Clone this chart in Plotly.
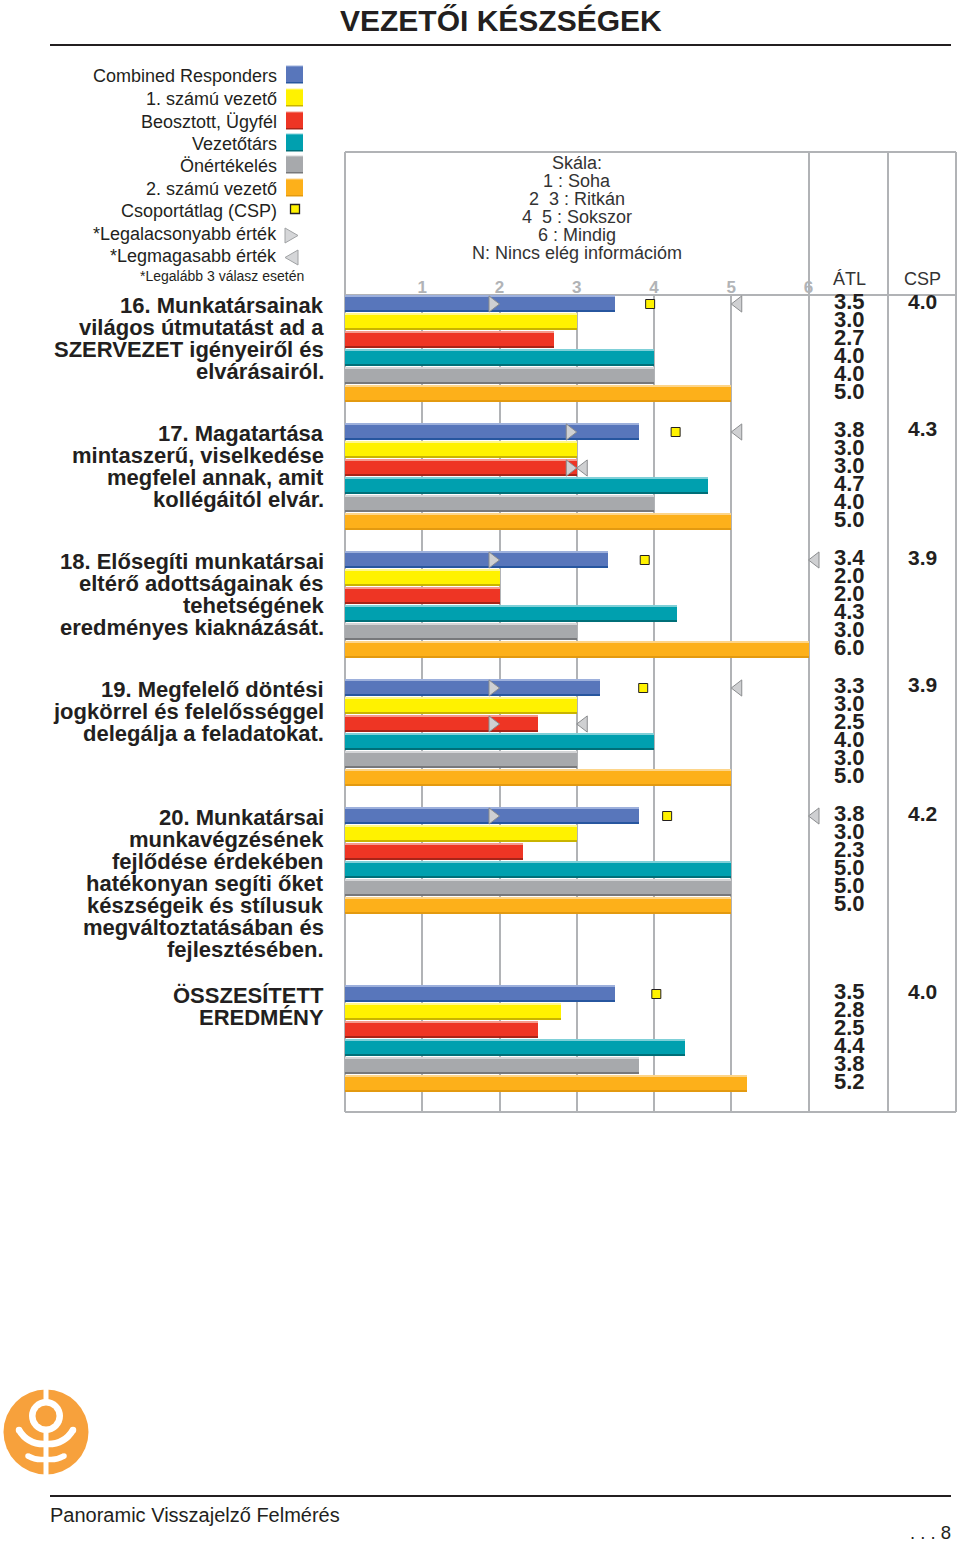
import plotly.graph_objects as go

W, H = 960, 1543
FONT = "Liberation Sans"

series_names = ["Combined Responders", "1. számú vezető", "Beosztott, Ügyfél", "Vezetőtárs", "Önértékelés", "2. számú vezető"]
main_colors = ["#5876bb", "#fff200", "#ee3524", "#00a0af", "#a7a9ac", "#fdb01a"]
dark_colors = ["#27569f", "#c9b400", "#a82418", "#006f78", "#77787b", "#e39a10"]
light_colors = ["#9db0dc", "#fff88a", "#f59a8c", "#7fd0d8", "#d4d5d7", "#fdd58a"]

combined = [3.5, 3.8, 3.4, 3.3, 3.8, 3.5]
leader1 = [3.0, 3.0, 2.0, 3.0, 3.0, 2.8]
subordinate = [2.7, 3.0, 2.0, 2.5, 2.3, 2.5]
peer = [4.0, 4.7, 4.3, 4.0, 5.0, 4.4]
self_rating = [4.0, 4.0, 3.0, 3.0, 5.0, 3.8]
leader2 = [5.0, 5.0, 6.0, 5.0, 5.0, 5.2]
all_series = [combined, leader1, subordinate, peer, self_rating, leader2]

csp = [4.0, 4.3, 3.9, 3.9, 4.2, 4.0]
csp_marks = [3.95, 4.28, 3.88, 3.86, 4.17, 4.03]
combined_low = [2, 3, 2, 2, 2, None]
combined_high = [5, 5, 6, 5, 6, None]
subordinate_low = [None, 3, None, 2, None, None]
subordinate_high = [None, 3, None, 3, None, None]

questions = [
    ["16. Munkatársainak", "világos útmutatást ad a", "SZERVEZET igényeiről és", "elvárásairól."],
    ["17. Magatartása", "mintaszerű, viselkedése", "megfelel annak, amit", "kollégáitól elvár."],
    ["18. Elősegíti munkatársai", "eltérő adottságainak és", "tehetségének", "eredményes kiaknázását."],
    ["19. Megfelelő döntési", "jogkörrel és felelősséggel", "delegálja a feladatokat."],
    ["20. Munkatársai", "munkavégzésének", "fejlődése érdekében", "hatékonyan segíti őket", "készségeik és stílusuk", "megváltoztatásában és", "fejlesztésében."],
    ["ÖSSZESÍTETT", "EREDMÉNY"],
]
scale_lines = ["Skála:", "1 : Soha", "2  3 : Ritkán", "4  5 : Sokszor", "6 : Mindig", "N: Nincs elég információm"]
legend_extra = ["Csoportátlag (CSP)", "*Legalacsonyabb érték", "*Legmagasabb érték"]
ticks = [1, 2, 3, 4, 5, 6]

# layout constants (pixels on the page)
PL, PR, PT, PB = 345, 957, 295, 1112
UNIT = 77.25
group_tops = [304, 432, 560, 688, 816, 994]
ROW = 18
TIP = 7 / UNIT


def row_y(g, r):
    return group_tops[g] + r * ROW


def px(x):
    return x / W


def py(y):
    return 1 - y / H


fig = go.Figure()

for s, vals in enumerate(all_series):
    ys = [row_y(g, s) for g in range(6)]
    fig.add_bar(y=ys, x=vals, orientation="h", width=16.6, marker=dict(color=main_colors[s], line_width=0), hoverinfo="skip")
    fig.add_bar(y=[y - 7.8 for y in ys], x=vals, orientation="h", width=1.2, marker=dict(color=light_colors[s], line_width=0), hoverinfo="skip")
    fig.add_bar(y=[y + 7.6 for y in ys], x=vals, orientation="h", width=1.4, marker=dict(color=dark_colors[s], line_width=0), hoverinfo="skip")


def add_points(vals, row, symbol, dx, size, color, line):
    xs, ys = [], []
    for g, v in enumerate(vals):
        if v is not None:
            xs.append(v + dx)
            ys.append(row_y(g, row))
    fig.add_scatter(x=xs, y=ys, mode="markers", hoverinfo="skip",
                    marker=dict(symbol=symbol, size=size, color=color, line=dict(color=line, width=1)))


TRI, TRL = "#cfd0d2", "#8a8c8e"
add_points(combined_low, 0, "triangle-right", -TIP, 14, TRI, TRL)
add_points(combined_high, 0, "triangle-left", TIP, 14, TRI, TRL)
add_points(subordinate_low, 2, "triangle-right", -TIP, 14, TRI, TRL)
add_points(subordinate_high, 2, "triangle-left", TIP, 14, TRI, TRL)
add_points(csp_marks, 0, "square", 0, 9, "#fff200", "#231f20")

ann = []


def text(x, y, t, size, anchor="right", color="#231f20", bold=False):
    if bold:
        t = "<b>" + t + "</b>"
    ann.append(dict(xref="paper", yref="paper", x=px(x), y=py(y), text=t, showarrow=False, borderpad=0, borderwidth=0,
                    xanchor=anchor, yanchor="middle", align=anchor,
                    font=dict(family=FONT, size=size, color=color)))


text(501, 20, "VEZETŐI KÉSZSÉGEK", 30, "center", bold=True)
text(50, 1515, "Panoramic Visszajelző Felmérés", 20, "left")
text(951, 1532.5, ". . . 8", 18.5, "right")

legend_y = [76, 99, 122, 144, 166, 189]
for name, y in zip(series_names, legend_y):
    text(276.5, y, name, 18)
for name, y in zip(legend_extra, [211, 234, 256]):
    text(276.5, y, name, 18)
text(304, 276, "*Legalább 3 válasz esetén", 14)

q_tops = [305.5, 433.5, 561.5, 689.5, 817.5, 995.5]
for lines, top in zip(questions, q_tops):
    for i, line in enumerate(lines):
        text(324, top + i * 22, line, 22, bold=True)

for i, line in enumerate(scale_lines):
    text(577, 163 + i * 18, line, 18, "center", color="#333333")

text(849, 279, "ÁTL", 18, "center", color="#333333")
text(922, 279, "CSP", 18, "center", color="#333333")

for s, vals in enumerate(all_series):
    for g, v in enumerate(vals):
        text(849, row_y(g, s) - 2.5, f"{v:.1f}", 22, "center", bold=True)
for g, v in enumerate(csp):
    text(922, row_y(g, 0) - 3, f"{v:.1f}", 21, "center", bold=True)

GR = "#b1b3b6"
shapes = []


def line(x0, y0, x1, y1, color=GR, width=2):
    shapes.append(dict(type="line", xref="paper", yref="paper", x0=px(x0), y0=py(y0), x1=px(x1), y1=py(y1),
                       line=dict(color=color, width=width), layer="below"))


def rect(x0, y0, x1, y1, fill, color=None, width=0, layer="above"):
    shapes.append(dict(type="rect", xref="paper", yref="paper", x0=px(x0), y0=py(y0), x1=px(x1), y1=py(y1),
                       fillcolor=fill, line=dict(color=color or fill, width=width), layer=layer))


def circle(cx, cy, r, fill):
    shapes.append(dict(type="circle", xref="paper", yref="paper", x0=px(cx - r), y0=py(cy - r), x1=px(cx + r), y1=py(cy + r),
                       fillcolor=fill, line=dict(width=0), layer="above"))


def poly(points, fill, color, width=1):
    d = "M " + " L ".join(f"{px(a):.5f},{py(b):.5f}" for a, b in points) + " Z"
    shapes.append(dict(type="path", xref="paper", yref="paper", path=d, fillcolor=fill, line=dict(color=color, width=width), layer="above"))


def curve(p0, c, p1, width=6):
    d = f"M {px(p0[0]):.5f},{py(p0[1]):.5f} Q {px(c[0]):.5f},{py(c[1]):.5f} {px(p1[0]):.5f},{py(p1[1]):.5f}"
    shapes.append(dict(type="path", xref="paper", yref="paper", path=d, line=dict(color="white", width=width), layer="above"))
    circle(p0[0], p0[1], width / 2, "white")


# header and footer rules
line(50, 45, 951, 45, "#231f20", 2)
line(50, 1496, 951, 1496, "#231f20", 2)
# frame
line(345, 152, 956, 152)
line(345, 152, 345, 1112)
line(956, 152, 956, 1112)
line(345, 1112, 956, 1112)
line(345, 295, 956, 295)
line(809, 152, 809, 1112)
line(888, 152, 888, 1112)

# legend swatches
for i, y in enumerate(legend_y):
    rect(286, y - 10, 303, y + 7, main_colors[i])
    rect(286, y + 6, 303, y + 7.5, dark_colors[i])
    rect(286, y - 10.5, 303, y - 9.5, light_colors[i])
rect(290.5, 204.5, 299.5, 213.5, "#fff200", "#231f20", 1.3)
poly([(285, 228), (285, 243), (298, 235.5)], "#d5d6d8", "#a0a2a4")
poly([(298, 250), (298, 265), (285, 257.5)], "#d5d6d8", "#a0a2a4")

# logo
OR = "#f7a13c"
circle(46, 1432, 42.5, OR)
circle(46, 1416, 17, "white")
circle(46, 1416, 10.5, OR)
rect(43.5, 1388, 48.5, 1402, "white")
rect(43.5, 1430, 48.5, 1476, "white")
for a, b, c in [((19, 1430), (28, 1445), (46, 1444)), ((73, 1430), (64, 1445), (46, 1444))]:
    curve(a, b, c, 6.5)
for a, b, c in [((28, 1456), (37, 1461), (46, 1459)), ((64, 1456), (55, 1461), (46, 1459))]:
    curve(a, b, c, 5.5)

fig.update_layout(
    width=W, height=H, autosize=False, showlegend=False, barmode="overlay",
    margin=dict(l=0, r=0, t=0, b=0), paper_bgcolor="white", plot_bgcolor="rgba(0,0,0,0)",
    shapes=shapes, annotations=ann, bargap=0,
    xaxis=dict(domain=[px(PL), px(PR)], range=[0, (PR - PL) / UNIT], side="top", anchor="y",
               tickvals=ticks[:], ticktext=[str(t) for t in ticks], showgrid=True, gridcolor=GR, gridwidth=2,
               zeroline=False, showline=False, ticks="", ticklen=0, ticklabelstandoff=-2,
               tickfont=dict(family=FONT, size=17, color="#b1b3b6", weight="bold")),
    yaxis=dict(domain=[py(PB), py(PT)], range=[PB, PT], visible=False, fixedrange=True),
)

fig.write_html("out.html", config=dict(displayModeBar=False), post_script="document.body.style.margin='0';")
